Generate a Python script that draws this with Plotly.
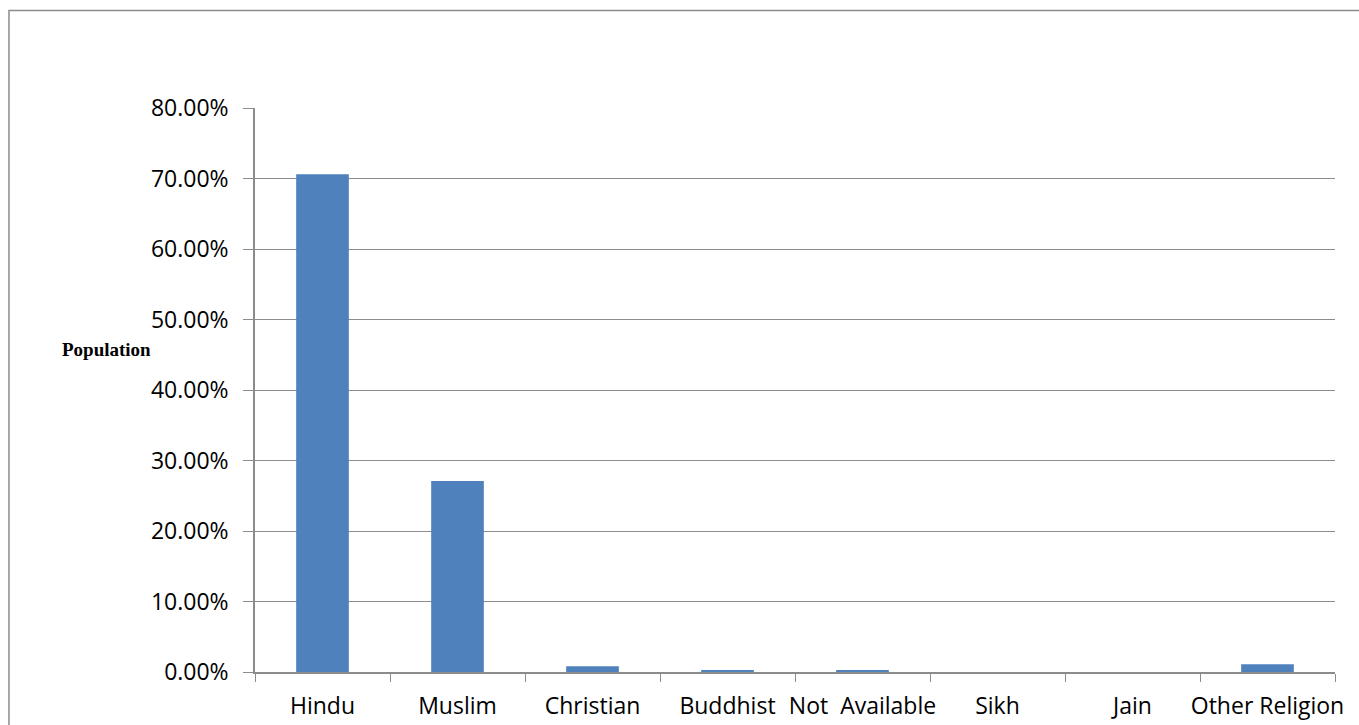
import plotly.graph_objects as go

# Religion-wise share of population
religions = ["Hindu", "Muslim", "Christian", "Buddhist", "Not  Available",
             "Sikh", "Jain", "Other Religion"]
shares = [0.706, 0.271, 0.008, 0.003, 0.0025, 0.0, 0.0, 0.011]
y_ticks = [0, 0.1, 0.2, 0.3, 0.4, 0.5, 0.6, 0.7, 0.8]
y_tick_text = ["0.00%", "10.00%", "20.00%", "30.00%", "40.00%",
               "50.00%", "60.00%", "70.00%", "80.00%"]

axis_grey = "#8c8c8c"
label_font = dict(family="Open Sans, sans-serif", size=23, color="#000000")

fig = go.Figure(
    go.Bar(
        x=religions,
        y=shares,
        marker=dict(color="#4f81bd", line=dict(width=0)),
        hoverinfo="x+y",
    )
)

fig.update_layout(
    width=1359,
    height=725,
    margin=dict(l=255, r=24, t=108, b=53),
    paper_bgcolor="white",
    plot_bgcolor="white",
    bargap=0.61,
    showlegend=False,
    shapes=[
        # outer chart frame (open to the right and bottom of the page)
        dict(type="rect", xref="paper", yref="paper",
             x0=-0.2278, x1=1.06, y0=-0.15, y1=1.1729,
             line=dict(color=axis_grey, width=1.5), fillcolor="rgba(0,0,0,0)",
             layer="below"),
    ],
    annotations=[
        dict(text="<b>Population</b>", xref="paper", yref="paper",
             x=-0.1805, y=0.571, xanchor="left", yanchor="middle",
             showarrow=False,
             font=dict(family="Liberation Serif, Times New Roman, serif",
                       size=19, color="#000000")),
    ],
)

fig.update_yaxes(
    range=[0, 0.8],
    tickvals=y_ticks,
    ticktext=y_tick_text,
    showgrid=True,
    gridcolor=axis_grey,
    gridwidth=1,
    showline=True,
    linecolor=axis_grey,
    linewidth=1.5,
    ticks="outside",
    ticklen=10,
    tickcolor=axis_grey,
    tickfont=label_font,
    ticklabelstandoff=10,
    zeroline=False,
    automargin=False,
    fixedrange=True,
)

fig.update_xaxes(
    type="category",
    showline=True,
    linecolor=axis_grey,
    linewidth=1.5,
    ticks="outside",
    tickson="boundaries",
    ticklen=8,
    tickcolor=axis_grey,
    tickfont=label_font,
    ticklabelstandoff=13,
    tickangle=0,
    showgrid=False,
    automargin=False,
    fixedrange=True,
)

fig.write_html("out.html")
